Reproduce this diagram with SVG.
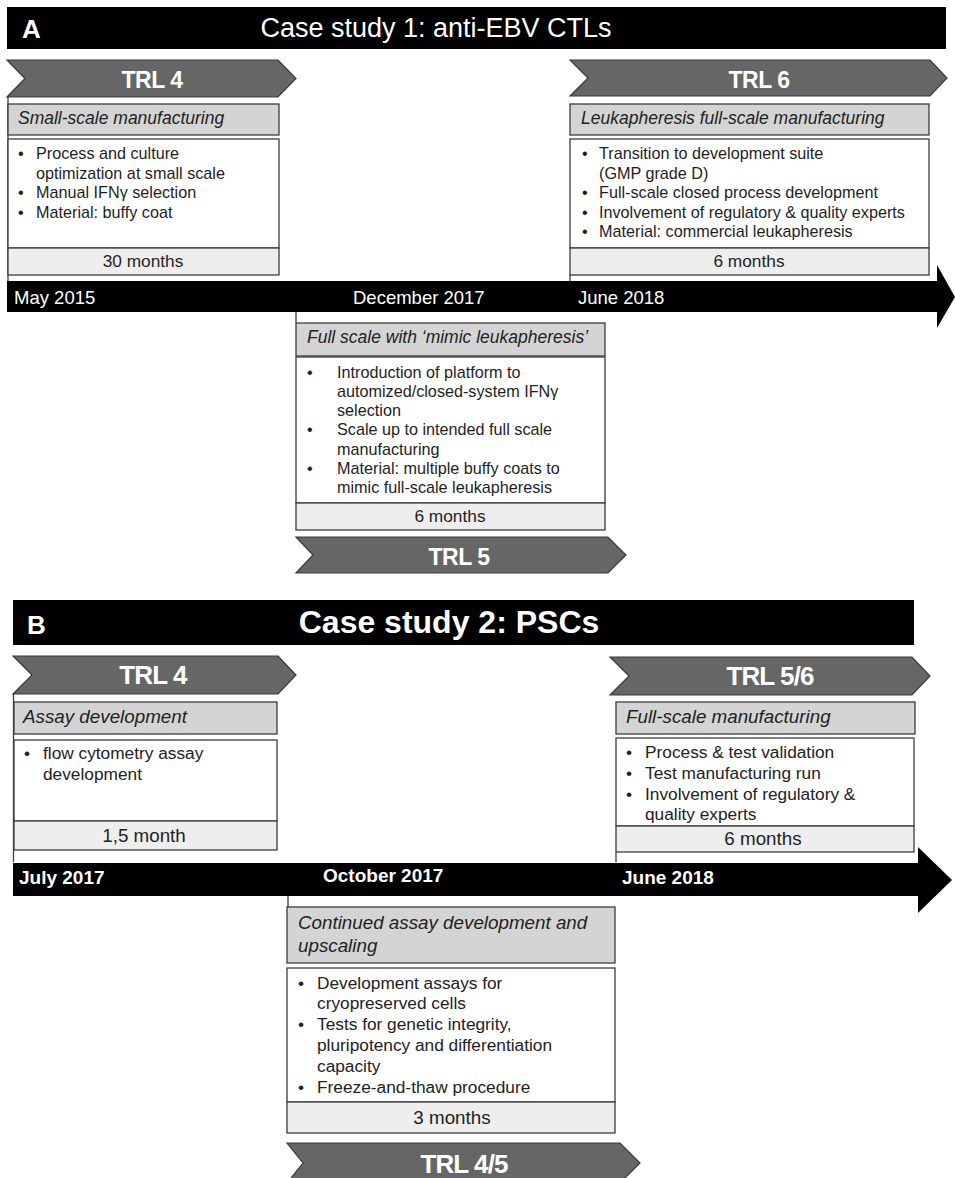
<svg xmlns="http://www.w3.org/2000/svg" width="955" height="1178" viewBox="0 0 955 1178">
<style>
  text { font-family: "Liberation Sans", Arial, sans-serif; }
  .hdr { fill: #000; }
  .hdrtxt { fill: #fff; }
  .chev { fill: #666; stroke: #3a3a3a; stroke-width: 1.2; }
  .trlA { fill: #fff; font-weight: bold; font-size: 23px; letter-spacing: -0.5px; text-anchor: middle; }
  .trlB { fill: #fff; font-weight: bold; font-size: 26px; letter-spacing: -0.9px; text-anchor: middle; }
  .ttl { fill: #d4d4d4; stroke: #3c3c3c; stroke-width: 1.3; }
  .body { fill: #fff; stroke: #3c3c3c; stroke-width: 1.3; }
  .dur { fill: #eeeeee; stroke: #3c3c3c; stroke-width: 1.3; }
  .it { font-style: italic; fill: #222; }
  .tA { font-size: 17.5px; }
  .tB { font-size: 18.8px; }
  .bA { font-size: 16.2px; fill: #1e1e1e; }
  .bB { font-size: 17.3px; fill: #222; }
  .dA { font-size: 17.3px; fill: #1e1e1e; text-anchor: middle; }
  .dB { font-size: 18.8px; fill: #222; text-anchor: middle; }
  .dateA { fill: #fff; font-size: 18.5px; }
  .dateB { fill: #fff; font-size: 19px; font-weight: bold; }
  .tick { stroke: #3c3c3c; stroke-width: 1.3; fill: none; }
</style>

<!-- Panel A header -->
<g id="headerA">
  <rect class="hdr" x="7" y="7" width="939" height="42"/>
  <text class="hdrtxt" x="22" y="38" font-size="26" font-weight="bold">A</text>
  <text class="hdrtxt" x="436" y="37" font-size="27" text-anchor="middle">Case study 1: anti-EBV CTLs</text>
</g>

<!-- Timeline A -->
<g id="timelineA">
  <rect x="7" y="281" width="931" height="31" fill="#000"/>
  <polygon points="937,265 955,297 937,328" fill="#000"/>
  <text class="dateA" x="14" y="304">May 2015</text>
  <text class="dateA" x="353" y="304">December 2017</text>
  <text class="dateA" x="578" y="304">June 2018</text>
</g>

<!-- connectors / guide lines -->
<g id="connectors">
  <line class="tick" x1="8" y1="97" x2="8" y2="281"/>
  <line class="tick" x1="570" y1="275" x2="570" y2="281"/>
  <line class="tick" x1="296" y1="312" x2="296" y2="323"/>
  <line class="tick" x1="13.5" y1="694" x2="13.5" y2="862"/>
  <line class="tick" x1="616" y1="852" x2="616" y2="862"/>
  <line class="tick" x1="288" y1="896" x2="288" y2="907"/>
</g>

<!-- A: TRL 4 -->
<g id="A-trl4">
  <polygon class="chev" points="7,60 278,60 296,78.5 278,97 7,97 25,78.5"/>
  <text class="trlA" x="152" y="88">TRL 4</text>
</g>
<g id="A-smallscale">
  <rect class="ttl" x="8" y="104" width="271" height="31"/>
  <text class="it tA" x="18" y="124">Small-scale manufacturing</text>
  <rect class="body" x="8" y="139" width="271" height="109"/>
  <text class="bA" x="18" y="159">•</text>
  <text class="bA" x="36" y="159">Process and culture</text>
  <text class="bA" x="36" y="179">optimization at small scale</text>
  <text class="bA" x="18" y="198">•</text>
  <text class="bA" x="36" y="198">Manual IFNγ selection</text>
  <text class="bA" x="18" y="218">•</text>
  <text class="bA" x="36" y="218">Material: buffy coat</text>
  <rect class="dur" x="8" y="248" width="271" height="27"/>
  <text class="dA" x="143" y="267">30 months</text>
</g>

<!-- A: TRL 6 -->
<g id="A-trl6">
  <polygon class="chev" points="570,60 930,60 947,78 930,96 570,96 588,78"/>
  <text class="trlA" x="759" y="88">TRL 6</text>
</g>
<g id="A-leuka">
  <rect class="ttl" x="570" y="104" width="359" height="31"/>
  <text class="it tA" x="581" y="124">Leukapheresis full-scale manufacturing</text>
  <rect class="body" x="570" y="139" width="359" height="109"/>
  <text class="bA" x="582" y="159">•</text>
  <text class="bA" x="599" y="159">Transition to development suite</text>
  <text class="bA" x="599" y="179">(GMP grade D)</text>
  <text class="bA" x="582" y="198">•</text>
  <text class="bA" x="599" y="198">Full-scale closed process development</text>
  <text class="bA" x="582" y="218">•</text>
  <text class="bA" x="599" y="218">Involvement of regulatory &amp; quality experts</text>
  <text class="bA" x="582" y="237">•</text>
  <text class="bA" x="599" y="237">Material: commercial leukapheresis</text>
  <rect class="dur" x="570" y="248" width="359" height="27"/>
  <text class="dA" x="749" y="267">6 months</text>
</g>

<!-- A: middle -->
<g id="A-mimic">
  <rect class="ttl" x="296" y="323" width="309" height="33"/>
  <text class="it tA" x="307" y="343">Full scale with ‘mimic leukapheresis’</text>
  <rect class="body" x="296" y="357" width="309" height="146"/>
  <text class="bA" x="307" y="378">•</text>
  <text class="bA" x="337" y="378">Introduction of platform to</text>
  <text class="bA" x="337" y="397">automized/closed-system IFNγ</text>
  <text class="bA" x="337" y="416">selection</text>
  <text class="bA" x="307" y="435">•</text>
  <text class="bA" x="337" y="435">Scale up to intended full scale</text>
  <text class="bA" x="337" y="455">manufacturing</text>
  <text class="bA" x="307" y="474">•</text>
  <text class="bA" x="337" y="474">Material: multiple buffy coats to</text>
  <text class="bA" x="337" y="493">mimic full-scale leukapheresis</text>
  <rect class="dur" x="296" y="503" width="309" height="27"/>
  <text class="dA" x="450" y="522">6 months</text>
</g>
<g id="A-trl5">
  <polygon class="chev" points="296,537 608,537 626,555 608,573 296,573 313,555"/>
  <text class="trlA" x="459" y="565">TRL 5</text>
</g>

<!-- Panel B header -->
<g id="headerB">
  <rect class="hdr" x="13" y="600" width="901" height="45"/>
  <text class="hdrtxt" x="27" y="634" font-size="26" font-weight="bold">B</text>
  <text class="hdrtxt" x="449" y="633" font-size="32" font-weight="bold" text-anchor="middle">Case study 2: PSCs</text>
</g>

<!-- Timeline B -->
<g id="timelineB">
  <rect x="13" y="863" width="906" height="33" fill="#000"/>
  <polygon points="918,847 952,880 918,913" fill="#000"/>
  <text class="dateB" x="19" y="884">July 2017</text>
  <text class="dateB" x="323" y="882">October 2017</text>
  <text class="dateB" x="622" y="884">June 2018</text>
</g>

<!-- B: TRL 4 -->
<g id="B-trl4">
  <polygon class="chev" points="13,656 278,656 296,675 278,694 13,694 32,675"/>
  <text class="trlB" x="153" y="684">TRL 4</text>
</g>
<g id="B-assay">
  <rect class="ttl" x="14" y="702" width="263" height="32"/>
  <text class="it tB" x="23" y="723">Assay development</text>
  <rect class="body" x="14" y="740" width="263" height="81"/>
  <text class="bB" x="24" y="759">•</text>
  <text class="bB" x="43" y="759">flow cytometry assay</text>
  <text class="bB" x="43" y="780">development</text>
  <rect class="dur" x="14" y="821" width="263" height="29"/>
  <text class="dB" x="144" y="842">1,5 month</text>
</g>

<!-- B: TRL 5/6 -->
<g id="B-trl56">
  <polygon class="chev" points="610,657 912,657 930,676 912,695 610,695 629,676"/>
  <text class="trlB" x="770" y="685">TRL 5/6</text>
</g>
<g id="B-fullscale">
  <rect class="ttl" x="616" y="702" width="299" height="32"/>
  <text class="it tB" x="626" y="723">Full-scale manufacturing</text>
  <rect class="body" x="616" y="738" width="298" height="88"/>
  <text class="bB" x="626" y="758">•</text>
  <text class="bB" x="645" y="758">Process &amp; test validation</text>
  <text class="bB" x="626" y="779">•</text>
  <text class="bB" x="645" y="779">Test manufacturing run</text>
  <text class="bB" x="626" y="800">•</text>
  <text class="bB" x="645" y="800">Involvement of regulatory &amp;</text>
  <text class="bB" x="645" y="820">quality experts</text>
  <rect class="dur" x="616" y="826" width="298" height="26"/>
  <text class="dB" x="763" y="845">6 months</text>
</g>

<!-- B: bottom -->
<g id="B-continued">
  <rect class="ttl" x="287" y="907" width="328" height="56"/>
  <text class="it tB" x="298" y="929">Continued assay development and</text>
  <text class="it tB" x="298" y="952">upscaling</text>
  <rect class="body" x="287" y="968" width="328" height="134"/>
  <text class="bB" x="298" y="989">•</text>
  <text class="bB" x="317" y="989">Development assays for</text>
  <text class="bB" x="317" y="1009">cryopreserved cells</text>
  <text class="bB" x="298" y="1030">•</text>
  <text class="bB" x="317" y="1030">Tests for genetic integrity,</text>
  <text class="bB" x="317" y="1051">pluripotency and differentiation</text>
  <text class="bB" x="317" y="1072">capacity</text>
  <text class="bB" x="298" y="1093">•</text>
  <text class="bB" x="317" y="1093">Freeze-and-thaw procedure</text>
  <rect class="dur" x="287" y="1102" width="328" height="31"/>
  <text class="dB" x="452" y="1124">3 months</text>
</g>
<g id="B-trl45">
  <polygon class="chev" points="287,1143 620,1143 640,1163 620,1183 287,1183 303,1163"/>
  <text class="trlB" x="464" y="1173">TRL 4/5</text>
</g>
</svg>
